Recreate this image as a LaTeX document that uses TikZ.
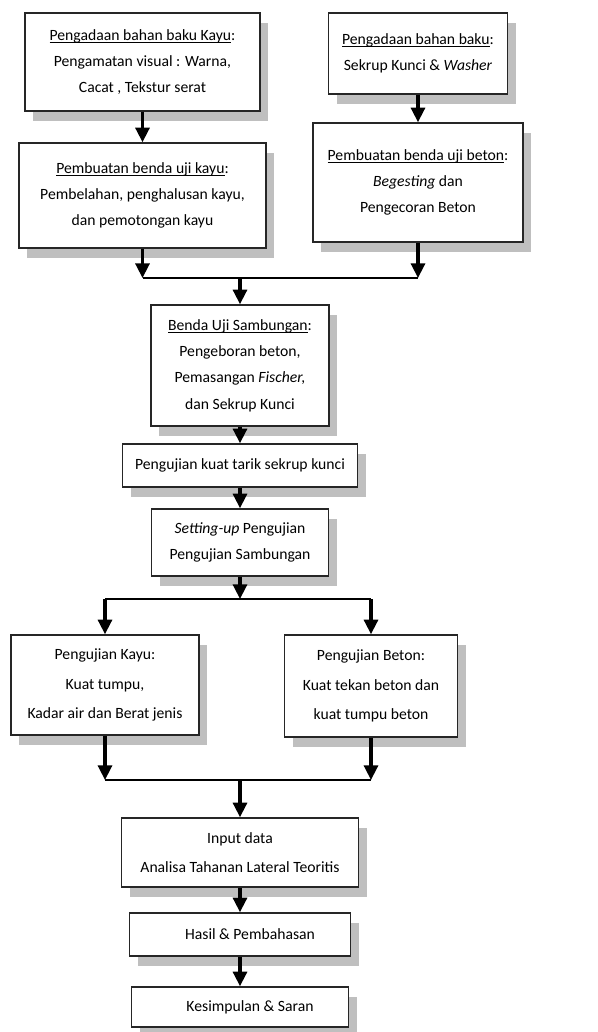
\documentclass[tikz,border=0pt]{standalone}
\usepackage{fontspec}
\setmainfont{Carlito}
\usetikzlibrary{arrows.meta,shadows}
\tikzstyle{tahap}=[rectangle, draw=black!85, line width=1.1pt, fill=white, align=center,
    inner sep=2pt, font=\fontsize{11.75}{19.8}\selectfont,
    drop shadow={shadow xshift=6pt, shadow yshift=-7.5pt, fill=black!25, opacity=1}]
\newcommand{\tahap}{\node[tahap]}
\newcommand{\garisbawah}[1]{\setbox0\hbox{#1}\rlap{\rule[-1.8pt]{\wd0}{0.6pt}}\box0}

\begin{document}
\begin{tikzpicture}[x=0.75pt, y=-0.75pt
    ,ukuran/.style 2 args={minimum width=#1*0.75pt, minimum height=#2*0.75pt}
    ,renggang/.style={font=\fontsize{11.75}{22}\selectfont}
    ,every edge/.style={draw, line width=2.4pt, -{Triangle[width=10.5pt,length=11pt]}}
    ,sambung/.style={draw, line width=1.5pt}
]
\useasboundingbox (0,0) rectangle (598,1032);
\tahap[ukuran={235}{98}]  (k1)  at (142.5,62)  {\garisbawah{Pengadaan bahan baku Kayu}:\\ Pengamatan visual : Warna,\\ Cacat , Tekstur serat};
\tahap[ukuran={179}{81}]  (k2)  at (418,53.5)  {\garisbawah{Pengadaan bahan baku}:\\ Sekrup Kunci \& \textit{Washer}};
\tahap[ukuran={247}{105}] (k3)  at (142.5,195.5) {\garisbawah{Pembuatan benda uji kayu}:\\ Pembelahan, penghalusan kayu,\\ dan pemotongan kayu};
\tahap[ukuran={210}{119}] (k4)  at (418,182.5) {\garisbawah{Pembuatan benda uji beton} :\\ \textit{Begesting} dan\\ Pengecoran Beton};
\tahap[ukuran={178}{121}] (k5)  at (240,365.5) {\garisbawah{Benda Uji Sambungan}:\\ Pengeboran beton,\\ Pemasangan \textit{Fischer,}\\ dan Sekrup Kunci};
\tahap[ukuran={235}{43}]  (k6)  at (240,465.5) {Pengujian kuat tarik sekrup kunci};
\tahap[ukuran={177}{67}]  (k7)  at (240,542.5) {\textit{Setting-up} Pengujian\\ Pengujian Sambungan};
\tahap[ukuran={188}{100},renggang] (k8) at (105,685) {Pengujian Kayu:\\ Kuat tumpu,\\ Kadar air dan Berat jenis};
\tahap[ukuran={173}{102},renggang] (k9) at (371,686) {Pengujian Beton:\\ Kuat tekan beton dan\\ kuat tumpu beton};
\tahap[ukuran={237}{69},renggang]  (k10) at (240,852.5) {Input data\\ Analisa Tahanan Lateral Teoritis};
\tahap[ukuran={221}{43}]  (k11) at (240,934.5) {\hspace*{15pt}Hasil \& Pembahasan};
\tahap[ukuran={217}{40}]  (k12) at (240,1007)  {\hspace*{15pt}Kesimpulan \& Saran};

% titik pertemuan
\coordinate (j1) at (142.5,278);
\coordinate (j2) at (418,278);
\coordinate (j3) at (240,278);
\coordinate (c1) at (240,599);
\coordinate (c2) at (105,599);
\coordinate (c3) at (371,599);
\coordinate (g1) at (105,780);
\coordinate (g2) at (371,780);
\coordinate (g3) at (240,780);

\path
(k1) edge (k3)
(k2) edge (k4)
(k3) edge (j1)
(k4) edge (j2)
(j3) edge (k5)
(k5) edge (k6)
(k6) edge (k7)
(k7) edge (c1)
(c2) edge (k8)
(c3) edge (k9)
(k8) edge (g1)
(k9) edge (g2)
(g3) edge (k10)
(k10) edge (k11)
(k11) edge (k12)
;
\path[sambung] (j1) -- (j2) (c2) -- (c3) (g1) -- (g2);
\end{tikzpicture}
\end{document}
